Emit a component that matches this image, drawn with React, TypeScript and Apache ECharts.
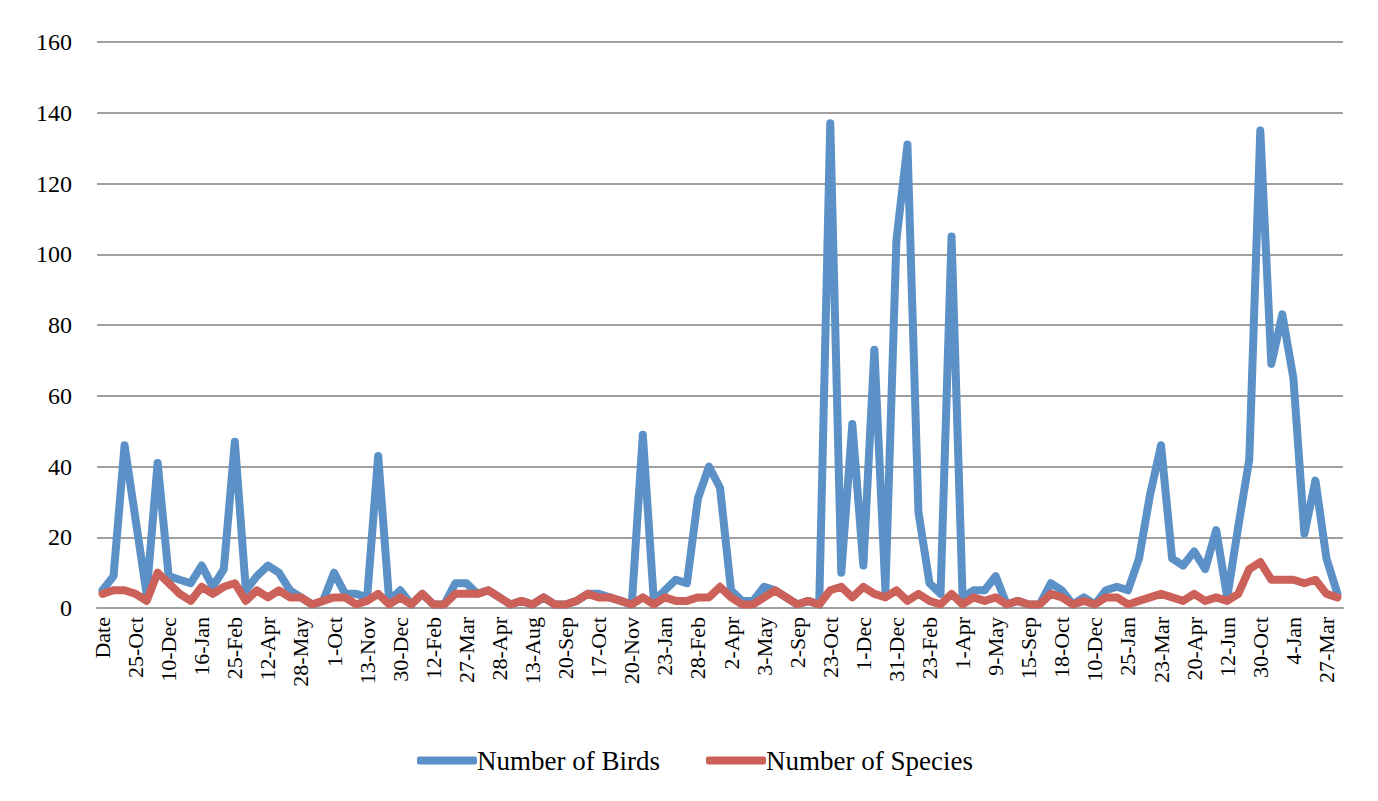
import React, { useEffect, useRef } from "react";
import * as echarts from "echarts";

const tickLabels = [
  "Date", "25-Oct", "10-Dec", "16-Jan", "25-Feb", "12-Apr", "28-May", "1-Oct",
  "13-Nov", "30-Dec", "12-Feb", "27-Mar", "28-Apr", "13-Aug", "20-Sep", "17-Oct",
  "20-Nov", "23-Jan", "28-Feb", "2-Apr", "3-May", "2-Sep", "23-Oct", "1-Dec",
  "31-Dec", "23-Feb", "1-Apr", "9-May", "15-Sep", "18-Oct", "10-Dec", "25-Jan",
  "23-Mar", "20-Apr", "12-Jun", "30-Oct", "4-Jan", "27-Mar",
];

const birds = [
  5, 9, 46, 25, 4, 41, 9, 8, 7, 12,
  6, 11, 47, 5, 9, 12, 10, 5, 3, 1,
  2, 10, 4, 4, 3, 43, 2, 5, 1, 4,
  1, 1, 7, 7, 4, 5, 3, 1, 2, 1,
  3, 1, 1, 2, 4, 4, 3, 2, 1, 49,
  2, 5, 8, 7, 31, 40, 34, 5, 2, 2,
  6, 5, 3, 1, 2, 1, 137, 10, 52, 12,
  73, 5, 104, 131, 27, 7, 4, 105, 3, 5,
  5, 9, 1, 2, 1, 1, 7, 5, 1, 3,
  1, 5, 6, 5, 14, 32, 46, 14, 12, 16,
  11, 22, 3, 23, 42, 135, 69, 83, 65, 21,
  36, 14, 4,
];

const species = [
  4, 5, 5, 4, 2, 10, 7, 4, 2, 6,
  4, 6, 7, 2, 5, 3, 5, 3, 3, 1,
  2, 3, 3, 1, 2, 4, 1, 3, 1, 4,
  1, 1, 4, 4, 4, 5, 3, 1, 2, 1,
  3, 1, 1, 2, 4, 3, 3, 2, 1, 3,
  1, 3, 2, 2, 3, 3, 6, 3, 1, 1,
  3, 5, 3, 1, 2, 1, 5, 6, 3, 6,
  4, 3, 5, 2, 4, 2, 1, 4, 1, 3,
  2, 3, 1, 2, 1, 1, 4, 3, 1, 2,
  1, 3, 3, 1, 2, 3, 4, 3, 2, 4,
  2, 3, 2, 4, 11, 13, 8, 8, 8, 7,
  8, 4, 3,
];

const categories = birds.map((_, i) => (i % 3 === 0 ? tickLabels[i / 3] : ""));

const FONT = "'Liberation Serif', 'Times New Roman', serif";
const BLUE = "#5b91c7";
const RED = "#cc6159";

export default function App() {
  const ref = useRef<HTMLDivElement>(null);
  useEffect(() => {
    document.body.style.margin = "0";
    const chart = echarts.init(ref.current!, null, { renderer: "svg" });
    chart.setOption({
      animation: false,
      backgroundColor: "#ffffff",
      grid: { left: 97, right: 35, top: 42, bottom: 193, containLabel: false },
      legend: {
        top: 742,
        left: 412,
        itemWidth: 60,
        itemHeight: 8,
        itemGap: 46,
        icon: "roundRect",
        textStyle: { fontFamily: FONT, fontSize: 27, color: "#000", padding: [0, 0, 0, -5] },
        data: [
          { name: "Number of Birds", itemStyle: { color: BLUE } },
          { name: "Number of Species", itemStyle: { color: RED } },
        ],
      },
      xAxis: {
        type: "category",
        boundaryGap: true,
        data: categories,
        axisLine: { lineStyle: { color: "#a0a0a0", width: 2 } },
        axisTick: { show: false },
        axisLabel: {
          interval: 2,
          rotate: 90,
          margin: 9,
          fontFamily: FONT,
          fontSize: 22,
          color: "#000",
        },
      },
      yAxis: {
        type: "value",
        min: 0,
        max: 160,
        interval: 20,
        axisLine: { show: false },
        axisTick: { show: false },
        splitLine: { lineStyle: { color: "#a0a0a0", width: 2 } },
        axisLabel: { fontFamily: FONT, fontSize: 24, color: "#000", margin: 25 },
      },
      series: [
        {
          name: "Number of Birds",
          type: "line",
          data: birds,
          symbol: "none",
          lineStyle: { color: BLUE, width: 8, join: "round", cap: "round" },
          itemStyle: { color: BLUE },
        },
        {
          name: "Number of Species",
          type: "line",
          data: species,
          symbol: "none",
          lineStyle: { color: RED, width: 8, join: "round", cap: "round" },
          itemStyle: { color: RED },
        },
      ],
    });
    return () => chart.dispose();
  }, []);
  return (
    <div
      ref={ref}
      style={{ position: "absolute", left: 0, top: 0, width: 1378, height: 801 }}
    />
  );
}
